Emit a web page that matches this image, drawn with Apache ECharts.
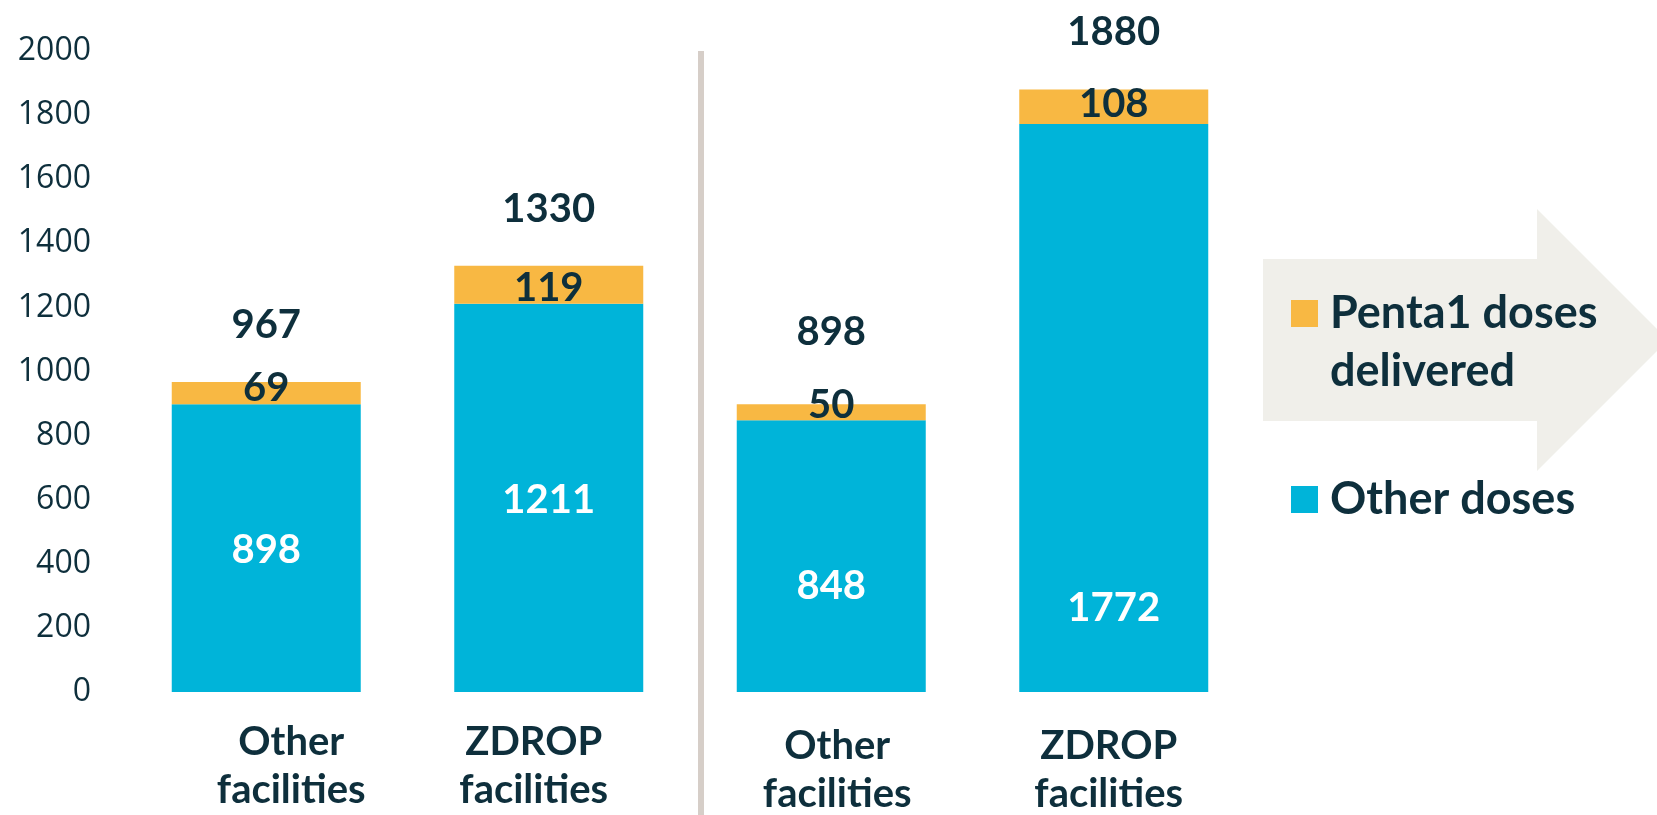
<!DOCTYPE html>
<html>
<head>
<meta charset="utf-8">
<script src="https://cdn.jsdelivr.net/npm/echarts@6/dist/echarts.min.js"></script>
<style>
html,body{margin:0;padding:0;background:#fff;}
#chart{width:1657px;height:815px;}
</style>
</head>
<body>
<div id="chart"></div>
<script>
// ---- data ----
var categories = ['Other facilities', 'ZDROP facilities', 'Other facilities', 'ZDROP facilities'];
var otherDoses = [898, 1211, 848, 1772];
var pentaDoses = [69, 119, 50, 108];
var totals = [967, 1330, 898, 1880];
var yTicks = [0, 200, 400, 600, 800, 1000, 1200, 1400, 1600, 1800, 2000];

// ---- label fine-tuning (pixel offsets, style only) ----
var otherLabelShift = [2, 2, 30, 200];
var pentaLabelShift = [-5, 3, -7, -3];
var totalLabelShift = [0, 0, -15, 0];
var xLabelPadding = [[0, 0, 0, 50], [0, 30, 0, 0], [4, 0, 0, 12], [4, 10, 0, 0]];

var DARK = '#0e2f3c';
var BLUE = '#00b4d9';
var ORANGE = '#f8b843';

var chart = echarts.init(document.getElementById('chart'));

var option = {
  backgroundColor: '#ffffff',
  animation: false,
  grid: { left: 125, right: 402, top: 51, bottom: 123, containLabel: false, outerBoundsMode: 'none' },
  graphic: [
    {
      type: 'polygon', z: 0,
      shape: { points: [[1263,259],[1537,259],[1537,209],[1668,340],[1537,471],[1537,421],[1263,421]] },
      style: { fill: '#f0efea' }
    },
    {
      type: 'line', z: 0,
      shape: { x1: 701, y1: 51, x2: 701, y2: 815 },
      style: { stroke: '#d6cec8', lineWidth: 6 }
    }
  ],
  legend: [
    {
      data: ['Penta1 doses delivered'],
      left: 1291, top: 226.5, padding: 0,
      orient: 'vertical',
      icon: 'rect', itemWidth: 27, itemHeight: 27,
      selectedMode: false,
      formatter: function () { return '\nPenta1 doses\ndelivered'; },
      textStyle: { fontFamily: 'Lato', fontWeight: 'bold', fontSize: 45, lineHeight: 58, color: DARK, padding: [0, 0, 0, 7] }
    },
    {
      data: ['Other doses'],
      left: 1291, top: 470.5, padding: 0,
      orient: 'vertical',
      icon: 'rect', itemWidth: 27, itemHeight: 27,
      selectedMode: false,
      textStyle: { fontFamily: 'Lato', fontWeight: 'bold', fontSize: 45, lineHeight: 58, color: DARK, padding: [0, 0, 0, 7] }
    }
  ],
  xAxis: {
    type: 'category',
    data: categories.map(function (c, i) {
      return { value: c, textStyle: { padding: xLabelPadding[i] } };
    }),
    axisLine: { show: false },
    axisTick: { show: false },
    axisLabel: {
      interval: 0,
      margin: 26,
      fontFamily: 'Lato', fontWeight: 'bold', fontSize: 40, lineHeight: 48, color: DARK,
      formatter: function (v) { return v.replace(' ', '\n'); }
    }
  },
  yAxis: {
    type: 'value',
    min: yTicks[0], max: yTicks[yTicks.length - 1], interval: yTicks[1] - yTicks[0],
    axisLine: { show: false },
    axisTick: { show: false },
    splitLine: { show: false },
    axisLabel: {
      margin: 34, fontFamily: 'Open Sans', fontSize: 32, color: DARK,
      formatter: function (v) { return String(v); }
    }
  },
  series: [
    {
      name: 'Other doses',
      type: 'bar',
      stack: 'doses',
      barWidth: 189,
      itemStyle: { color: BLUE },
      data: otherDoses.map(function (v, i) {
        return { value: v, label: { offset: [0, otherLabelShift[i]] } };
      }),
      label: {
        show: true, position: 'inside',
        fontFamily: 'Lato', fontWeight: 'bold', fontSize: 40, color: '#ffffff'
      }
    },
    {
      name: 'Penta1 doses delivered',
      type: 'bar',
      stack: 'doses',
      barWidth: 189,
      itemStyle: { color: ORANGE },
      data: pentaDoses.map(function (v, i) {
        return { value: v, label: { offset: [0, pentaLabelShift[i]] } };
      }),
      label: {
        show: true, position: 'inside',
        fontFamily: 'Lato', fontWeight: 'bold', fontSize: 40, color: DARK
      }
    },
    {
      name: 'Total',
      type: 'scatter',
      symbolSize: 0,
      silent: true,
      itemStyle: { opacity: 1 },
      data: totals.map(function (v, i) {
        return { value: v, label: { offset: [0, totalLabelShift[i]] } };
      }),
      label: {
        show: true, position: 'top', distance: 35,
        fontFamily: 'Lato', fontWeight: 'bold', fontSize: 40, lineHeight: 44, color: DARK
      }
    }
  ]
};

chart.setOption(option);
</script>
</body>
</html>
